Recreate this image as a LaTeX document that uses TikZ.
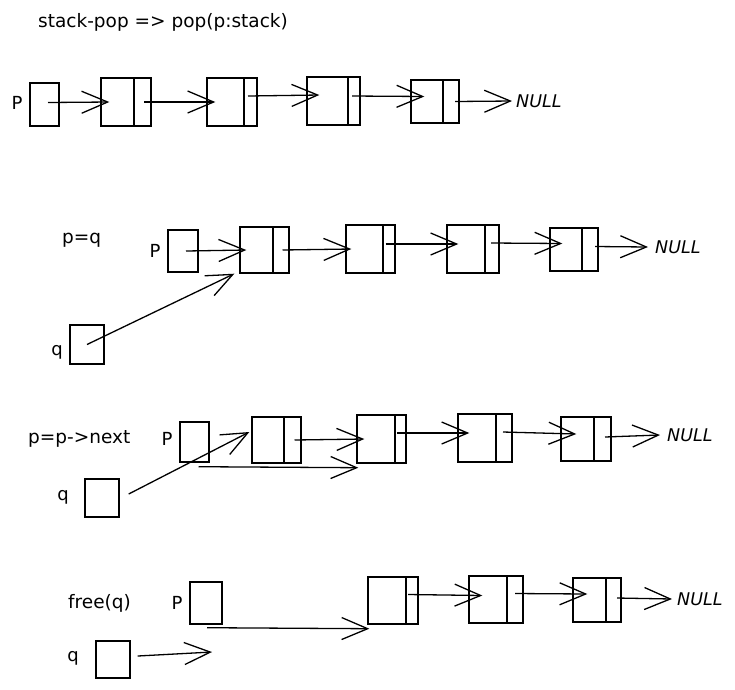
\documentclass[tikz,border=0pt]{standalone}
\usepackage{fontspec}
\setmainfont{DejaVu Sans}
\usetikzlibrary{arrows.meta}
\newcommand\lcell[6]{%
  \node[box, minimum width=#4, minimum height=#5] (#1) at (#2,#3) {};
  \draw[line width=1.4pt] (#1.north -| #6,0) -- (#1.south -| #6,0);}
\begin{document}
\begin{tikzpicture}[x=1pt,y=-1pt,
  box/.style={draw, line width=1.4pt, inner sep=0pt},
  arr/.style={line width=1.3pt, -{Straight Barb[length=26pt,width=22pt,line width=1.3pt]}},
  lbl/.style={font=\fontsize{18}{21}\selectfont, inner sep=0pt},
  nulltxt/.style={font=\fontsize{17.5}{20}\selectfont\itshape, inner sep=0pt, anchor=west},
  ttl/.style={font=\fontsize{18.5}{21}\selectfont, inner sep=0pt}
]
\useasboundingbox (0,0) rectangle (735,689);

% title
\node[ttl, anchor=west] (t0) at (38,22) {stack-pop => pop(p:stack)};

% row 1
\node[lbl] (P1) at (17,103) {P};
\node[box, minimum width=29, minimum height=43] (p1) at (44.5,104.5) {};
\lcell{n11}{126}{102}{50}{48}{134}
\lcell{n12}{232}{102}{50}{48}{244}
\lcell{n13}{333.5}{101}{53}{48}{348}
\lcell{n14}{435}{101.5}{48}{43}{443}
\node[nulltxt] (N1) at (516,101) {NULL};
\draw[arr] ([xshift=3.5,yshift=2]p1.center) -- ([xshift=9]n11.west);
\draw[arr] ([xshift=18]n11.center) -- ([xshift=9]n12.west);
\draw[arr] ([xshift=16,yshift=6]n12.center) -- ([xshift=13,yshift=6]n13.west);
\draw[arr] ([xshift=18.5,yshift=5]n13.center) -- ([xshift=14,yshift=5]n14.west);
\draw[arr] ([xshift=20]n14.center) -- ([xshift=-4]N1.west);

% row 2
\node[ttl, anchor=west] (t2) at (62,240) {p=q};
\node[lbl] (P2) at (155,251) {P};
\node[box, minimum width=30, minimum height=42] (p2) at (183,251) {};
\lcell{n21}{264.5}{250}{49}{46}{273}
\lcell{n22}{370.5}{249}{49}{48}{383}
\lcell{n23}{473}{249}{52}{48}{485}
\lcell{n24}{574}{249.5}{48}{43}{582}
\node[nulltxt] (N2) at (655,247) {NULL};
\node[lbl] (Q2) at (57,352) {q};
\node[box, minimum width=34, minimum height=39] (q2) at (87,344.5) {};
\draw[arr] ([xshift=3]p2.center) -- ([xshift=7]n21.west);
\draw[arr] ([xshift=18]n21.center) -- ([xshift=6]n22.west);
\draw[arr] ([xshift=15,yshift=5]n22.center) -- ([xshift=12,yshift=5]n23.west);
\draw[arr] ([xshift=18,yshift=6]n23.center) -- ([xshift=13,yshift=6]n24.west);
\draw[arr] ([xshift=21,yshift=3]n24.center) -- ([xshift=-7]N2.west);
\draw[arr] (q2.center) -- ([xshift=-5]n21.south west);

% row 3
\node[ttl, anchor=west] (t3) at (28,439) {p=p->next};
\node[lbl] (P3) at (167,439) {P};
\node[box, minimum width=29, minimum height=40] (p3) at (194.5,442) {};
\lcell{n31}{276.5}{440}{49}{46}{284}
\lcell{n32}{381.5}{439}{49}{48}{395}
\lcell{n33}{485}{438}{54}{48}{496}
\lcell{n34}{586}{439}{50}{44}{594}
\node[nulltxt] (N3) at (667,435) {NULL};
\node[lbl] (Q3) at (63,497) {q};
\node[box, minimum width=34, minimum height=38] (q3) at (102,498) {};
\draw[arr] ([xshift=9,yshift=4]q3.east) -- ([xshift=-2,yshift=8]n31.west);
\draw[arr] ([xshift=4,yshift=-4]p3.south) -- ([xshift=2,yshift=-4]n32.south west);
\draw[arr] ([xshift=18]n31.center) -- ([xshift=8]n32.west);
\draw[arr] ([xshift=15.5,yshift=6]n32.center) -- ([xshift=12,yshift=5]n33.west);
\draw[arr] ([xshift=18,yshift=6]n33.center) -- ([xshift=16,yshift=5]n34.west);
\draw[arr] ([xshift=19,yshift=2]n34.center) -- ([xshift=-7]N3.west);

% row 4
\node[ttl, anchor=west] (t4) at (68,603) {free(q)};
\node[lbl] (P4) at (177,603) {P};
\node[box, minimum width=32, minimum height=42] (p4) at (206,603) {};
\lcell{n41}{393}{600.5}{50}{47}{406}
\lcell{n42}{496}{599.5}{54}{47}{507}
\lcell{n43}{597}{600}{48}{44}{606}
\node[nulltxt] (N4) at (677,599) {NULL};
\node[lbl] (Q4) at (73,658) {q};
\node[box, minimum width=34, minimum height=37] (q4) at (113,659.5) {};
\coordinate (qe4) at (212,652);
\draw[arr] ([xshift=1,yshift=-3]p4.south) -- ([xshift=2,yshift=-4]n41.south west);
\draw[arr] ([xshift=7,yshift=3.5]q4.east) -- (qe4);
\draw[arr] ([xshift=15,yshift=6]n41.center) -- ([xshift=14,yshift=4]n42.west);
\draw[arr] ([xshift=19,yshift=6]n42.center) -- ([xshift=15,yshift=6]n43.west);
\draw[arr] ([xshift=20,yshift=2]n43.center) -- ([xshift=-5]N4.west);
\end{tikzpicture}
\end{document}
